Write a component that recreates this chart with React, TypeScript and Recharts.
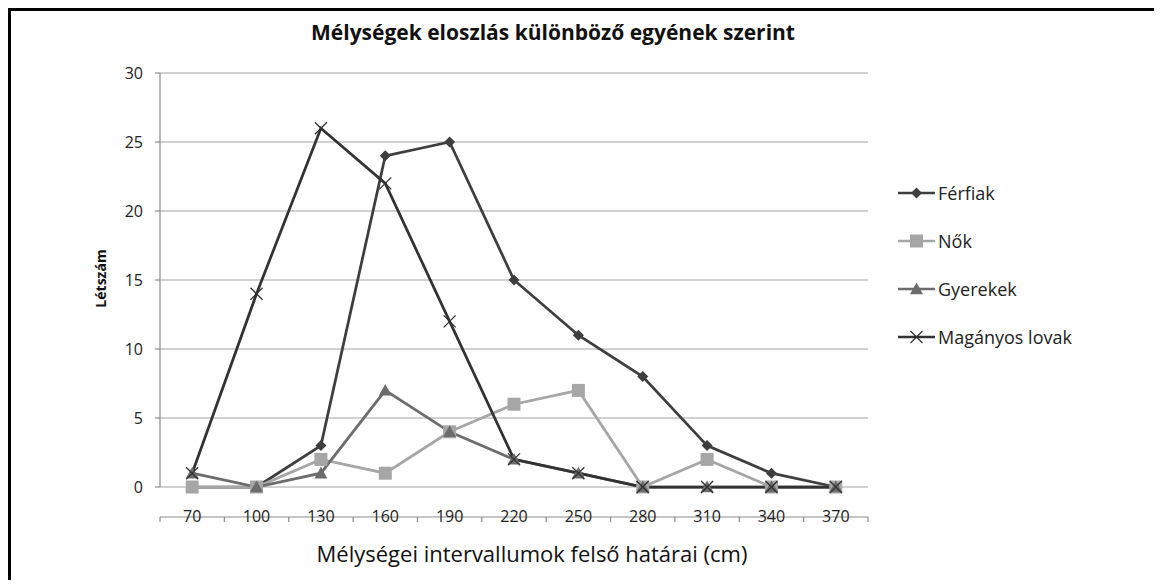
import React from 'react';
import { CartesianGrid, Legend, Line, LineChart, XAxis, YAxis } from 'recharts';

// upper bounds of the depth intervals (cm)
const categories = [70, 100, 130, 160, 190, 220, 250, 280, 310, 340, 370];
const ferfiak = [0, 0, 3, 24, 25, 15, 11, 8, 3, 1, 0];
const nok = [0, 0, 2, 1, 4, 6, 7, 0, 2, 0, 0];
const gyerekek = [1, 0, 1, 7, 4, 2, 1, 0, 0, 0, 0];
const maganyos = [1, 14, 26, 22, 12, 2, 1, 0, 0, 0, 0];
const yTicks = [0, 5, 10, 15, 20, 25, 30];
// category boundaries for the tick marks between labels
const boundaries = [55, 85, 115, 145, 175, 205, 235, 265, 295, 325, 355, 385];

const data = categories.map((c, i) => ({
    cat: c,
    ferfiak: ferfiak[i],
    nok: nok[i],
    gyerekek: gyerekek[i],
    maganyos: maganyos[i]
}));

const FONT = '"Open Sans", sans-serif';

type Shape = 'diamond' | 'square' | 'triangle' | 'cross';

const Marker = ({ cx, cy, shape, color }: { cx: number; cy: number; shape: Shape; color: string }) => {
    if (cx == null || cy == null) return null;
    if (shape === 'diamond') {
        const r = 5.5;
        return <path d={`M${cx},${cy - r}L${cx + r},${cy}L${cx},${cy + r}L${cx - r},${cy}Z`} fill={color} />;
    }
    if (shape === 'square') {
        const r = 6.5;
        return <rect x={cx - r} y={cy - r} width={r * 2} height={r * 2} fill={color} />;
    }
    if (shape === 'triangle') {
        const r = 6.5;
        return <path d={`M${cx},${cy - r}L${cx + r},${cy + r * 0.8}L${cx - r},${cy + r * 0.8}Z`} fill={color} />;
    }
    const r = 6;
    return (
        <g stroke={color} strokeWidth={1.3}>
            <line x1={cx - r} y1={cy - r} x2={cx + r} y2={cy + r} />
            <line x1={cx - r} y1={cy + r} x2={cx + r} y2={cy - r} />
        </g>
    );
};

const series: { key: string; name: string; color: string; shape: Shape }[] = [
    { key: 'ferfiak', name: 'Férfiak', color: '#3e3e3e', shape: 'diamond' },
    { key: 'nok', name: 'Nők', color: '#a6a6a6', shape: 'square' },
    { key: 'gyerekek', name: 'Gyerekek', color: '#6c6c6c', shape: 'triangle' },
    { key: 'maganyos', name: 'Magányos lovak', color: '#323232', shape: 'cross' }
];

const LegendContent = (props: any) => {
    const payload = props.payload || [];
    // keep the series order instead of the library's alphabetical sort
    const items = series.filter(s => payload.some((e: any) => e.dataKey === s.key));
    return (
        <div style={{ fontFamily: FONT, fontSize: 18, color: '#222' }}>
            {items.map(s => (
                <div key={s.key} style={{ display: 'flex', alignItems: 'center', height: 48 }}>
                    <svg width={38} height={16} style={{ marginRight: 2 }}>
                        <line x1={0} y1={8} x2={37} y2={8} stroke={s.color} strokeWidth={2.5} />
                        <Marker cx={18.5} cy={8} shape={s.shape} color={s.color} />
                    </svg>
                    <span>{s.name}</span>
                </div>
            ))}
        </div>
    );
};

export default function App() {
    return (
        <div
            style={{
                position: 'relative',
                width: 1146,
                height: 572,
                overflow: 'hidden',
                borderTop: '3px solid #000',
                borderLeft: '3px solid #000',
                boxSizing: 'border-box',
                background: '#fff'
            }}
        >
            <div
                style={{
                    position: 'absolute',
                    left: 0,
                    width: 1084,
                    top: 7,
                    textAlign: 'center',
                    fontFamily: FONT,
                    fontWeight: 700,
                    fontSize: 21,
                    color: '#111'
                }}
            >
                Mélységek eloszlás különböző egyének szerint
            </div>
            <div
                style={{
                    position: 'absolute',
                    left: 89 - 60,
                    top: 258,
                    width: 120,
                    textAlign: 'center',
                    transform: 'rotate(-90deg)',
                    fontFamily: FONT,
                    fontWeight: 700,
                    fontSize: 14,
                    color: '#111'
                }}
            >
                Létszám
            </div>
            <div
                style={{
                    position: 'absolute',
                    left: 271,
                    width: 500,
                    top: 527,
                    textAlign: 'center',
                    whiteSpace: 'nowrap',
                    fontFamily: FONT,
                    fontSize: 22,
                    color: '#111'
                }}
            >
                Mélységei intervallumok felső határai (cm)
            </div>
            <LineChart width={1143} height={569} data={data} margin={{ top: 62, right: 286, left: 0, bottom: 62 }}>
                <CartesianGrid vertical={false} stroke="#a3a3a3" strokeWidth={1.2} />
                <XAxis
                    xAxisId="marks"
                    dataKey="cat"
                    type="number"
                    domain={[55, 385]}
                    ticks={boundaries}
                    height={1}
                    tickSize={5}
                    tickFormatter={() => ''}
                    stroke="#8c8c8c"
                    strokeWidth={1.2}
                />
                <XAxis
                    xAxisId="labels"
                    dataKey="cat"
                    type="number"
                    domain={[55, 385]}
                    ticks={categories}
                    height={30}
                    axisLine={false}
                    tickLine={false}
                    tickSize={0}
                    tickMargin={24}
                    tick={{ fill: '#222', fontSize: 16, fontFamily: FONT }}
                />
                <YAxis
                    width={149}
                    domain={[0, 30]}
                    ticks={yTicks}
                    tickSize={5}
                    tickMargin={12}
                    stroke="#8c8c8c"
                    strokeWidth={1.2}
                    tick={{ fill: '#222', fontSize: 16, fontFamily: FONT }}
                />
                <Legend
                    layout="vertical"
                    align="center"
                    verticalAlign="middle"
                    content={LegendContent}
                    wrapperStyle={{ left: 887, top: 158, width: 240 }}
                />
                {series.map(s => (
                    <Line
                        key={s.key}
                        xAxisId="labels"
                        dataKey={s.key}
                        name={s.name}
                        stroke={s.color}
                        strokeWidth={2.75}
                        isAnimationActive={false}
                        dot={(p: any) => (
                            <Marker key={`${s.key}-${p.index}`} cx={p.cx} cy={p.cy} shape={s.shape} color={s.color} />
                        )}
                        activeDot={false}
                    />
                ))}
            </LineChart>
        </div>
    );
}
